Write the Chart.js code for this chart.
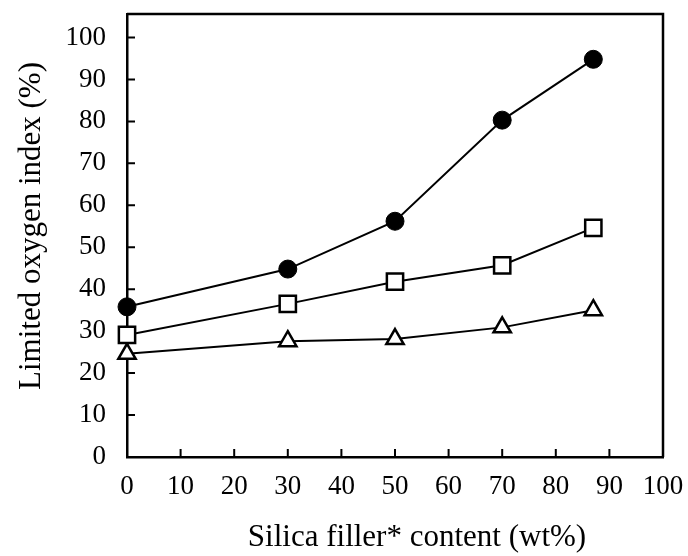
<!DOCTYPE html>
<html><head><meta charset="utf-8">
<script src="https://cdn.jsdelivr.net/npm/chart.js@4/dist/chart.umd.min.js"></script>
<style>html,body{margin:0;padding:0;background:#fff}#wrap{width:688px;height:556px}</style>
</head><body><div id="wrap"><canvas id="c" width="688" height="556"></canvas></div>
<script>
const silicaContent = [0, 30, 50, 70, 87];
const loiCircle = [35.8, 44.8, 56.2, 80.3, 94.8];
const loiSquare = [29.1, 36.5, 41.8, 45.7, 54.6];
const loiTriangle = [24.6, 27.6, 28.1, 30.9, 35.0];
const xTickValues = [0, 10, 20, 30, 40, 50, 60, 70, 80, 90, 100];
const yTickValues = [0, 10, 20, 30, 40, 50, 60, 70, 80, 90, 100];
const xTitle = 'Silica filler* content (wt%)';
const yTitle = 'Limited oxygen index (%)';

const FONT = '"Liberation Serif", "Times New Roman", serif';
const pts = arr => silicaContent.map((x, i) => ({x: x, y: arr[i]}));

const frame = {
  id: 'frame',
  beforeDatasetsDraw(chart) {
    const {ctx, chartArea: a, scales: {x, y}} = chart;
    ctx.save();
    ctx.strokeStyle = '#000';
    ctx.lineWidth = 2;
    ctx.beginPath();
    x.ticks.forEach(t => {
      const px = x.getPixelForValue(t.value);
      ctx.moveTo(px, a.bottom); ctx.lineTo(px, a.bottom - 8);
    });
    y.ticks.forEach(t => {
      const py = y.getPixelForValue(t.value);
      ctx.moveTo(a.left, py); ctx.lineTo(a.left + 8, py);
    });
    ctx.stroke();
    ctx.lineWidth = 2.5;
    ctx.beginPath();
    ctx.moveTo(a.left, a.top); ctx.lineTo(a.right, a.top); ctx.lineTo(a.right, a.bottom);
    ctx.stroke();
    ctx.restore();
  },
  afterDraw(chart) {
    const {ctx} = chart;
    ctx.save();
    ctx.fillStyle = '#000';
    ctx.font = '31px ' + FONT;
    ctx.textAlign = 'center';
    ctx.textBaseline = 'middle';
    ctx.fillText(xTitle, 417, 538);
    ctx.translate(32, 226);
    ctx.rotate(-Math.PI / 2);
    ctx.fillText(yTitle, 0, 0);
    ctx.restore();
  }
};

const common = {
  borderColor: '#000', borderWidth: 2, tension: 0, clip: false,
  pointBorderColor: '#000', pointBorderWidth: 2.5, showLine: true
};

new Chart(document.getElementById('c'), {
  type: 'scatter',
  data: {
    datasets: [
      Object.assign({}, common, {label: 'circle', data: pts(loiCircle), pointStyle: 'circle', pointRadius: 9,
        pointBackgroundColor: '#000', pointBorderWidth: 1}),
      Object.assign({}, common, {label: 'square', data: pts(loiSquare), pointStyle: 'rect', pointRadius: 11.5,
        pointBackgroundColor: '#fff'}),
      Object.assign({}, common, {label: 'triangle', data: pts(loiTriangle), pointStyle: 'triangle', pointRadius: 10,
        pointBackgroundColor: '#fff'})
    ]
  },
  options: {
    responsive: false, animation: false, devicePixelRatio: 1,
    layout: {padding: {top: 6, right: 25, left: 0, bottom: 0}},
    plugins: {legend: {display: false}, tooltip: {enabled: false}},
    scales: {
      x: {
        type: 'linear', min: 0, max: 100,
        afterBuildTicks: s => { s.ticks = xTickValues.map(v => ({value: v})); },
        afterFit: s => { s.height = 99; s.paddingLeft = 0; s.paddingRight = 0; },
        grid: {display: false, drawTicks: false},
        border: {display: true, color: '#000', width: 2.5},
        ticks: {color: '#000', font: {family: FONT, size: 27}, padding: 14, maxRotation: 0, autoSkip: false}
      },
      y: {
        type: 'linear', min: 0, max: 105.6,
        afterBuildTicks: s => { s.ticks = yTickValues.map(v => ({value: v})); },
        afterFit: s => { s.width = 127; s.paddingTop = 0; s.paddingBottom = 0; },
        grid: {display: false, drawTicks: false},
        border: {display: true, color: '#000', width: 2.5},
        ticks: {color: '#000', font: {family: FONT, size: 27}, padding: 21, autoSkip: false}
      }
    }
  },
  plugins: [frame]
});
</script>
</body></html>
